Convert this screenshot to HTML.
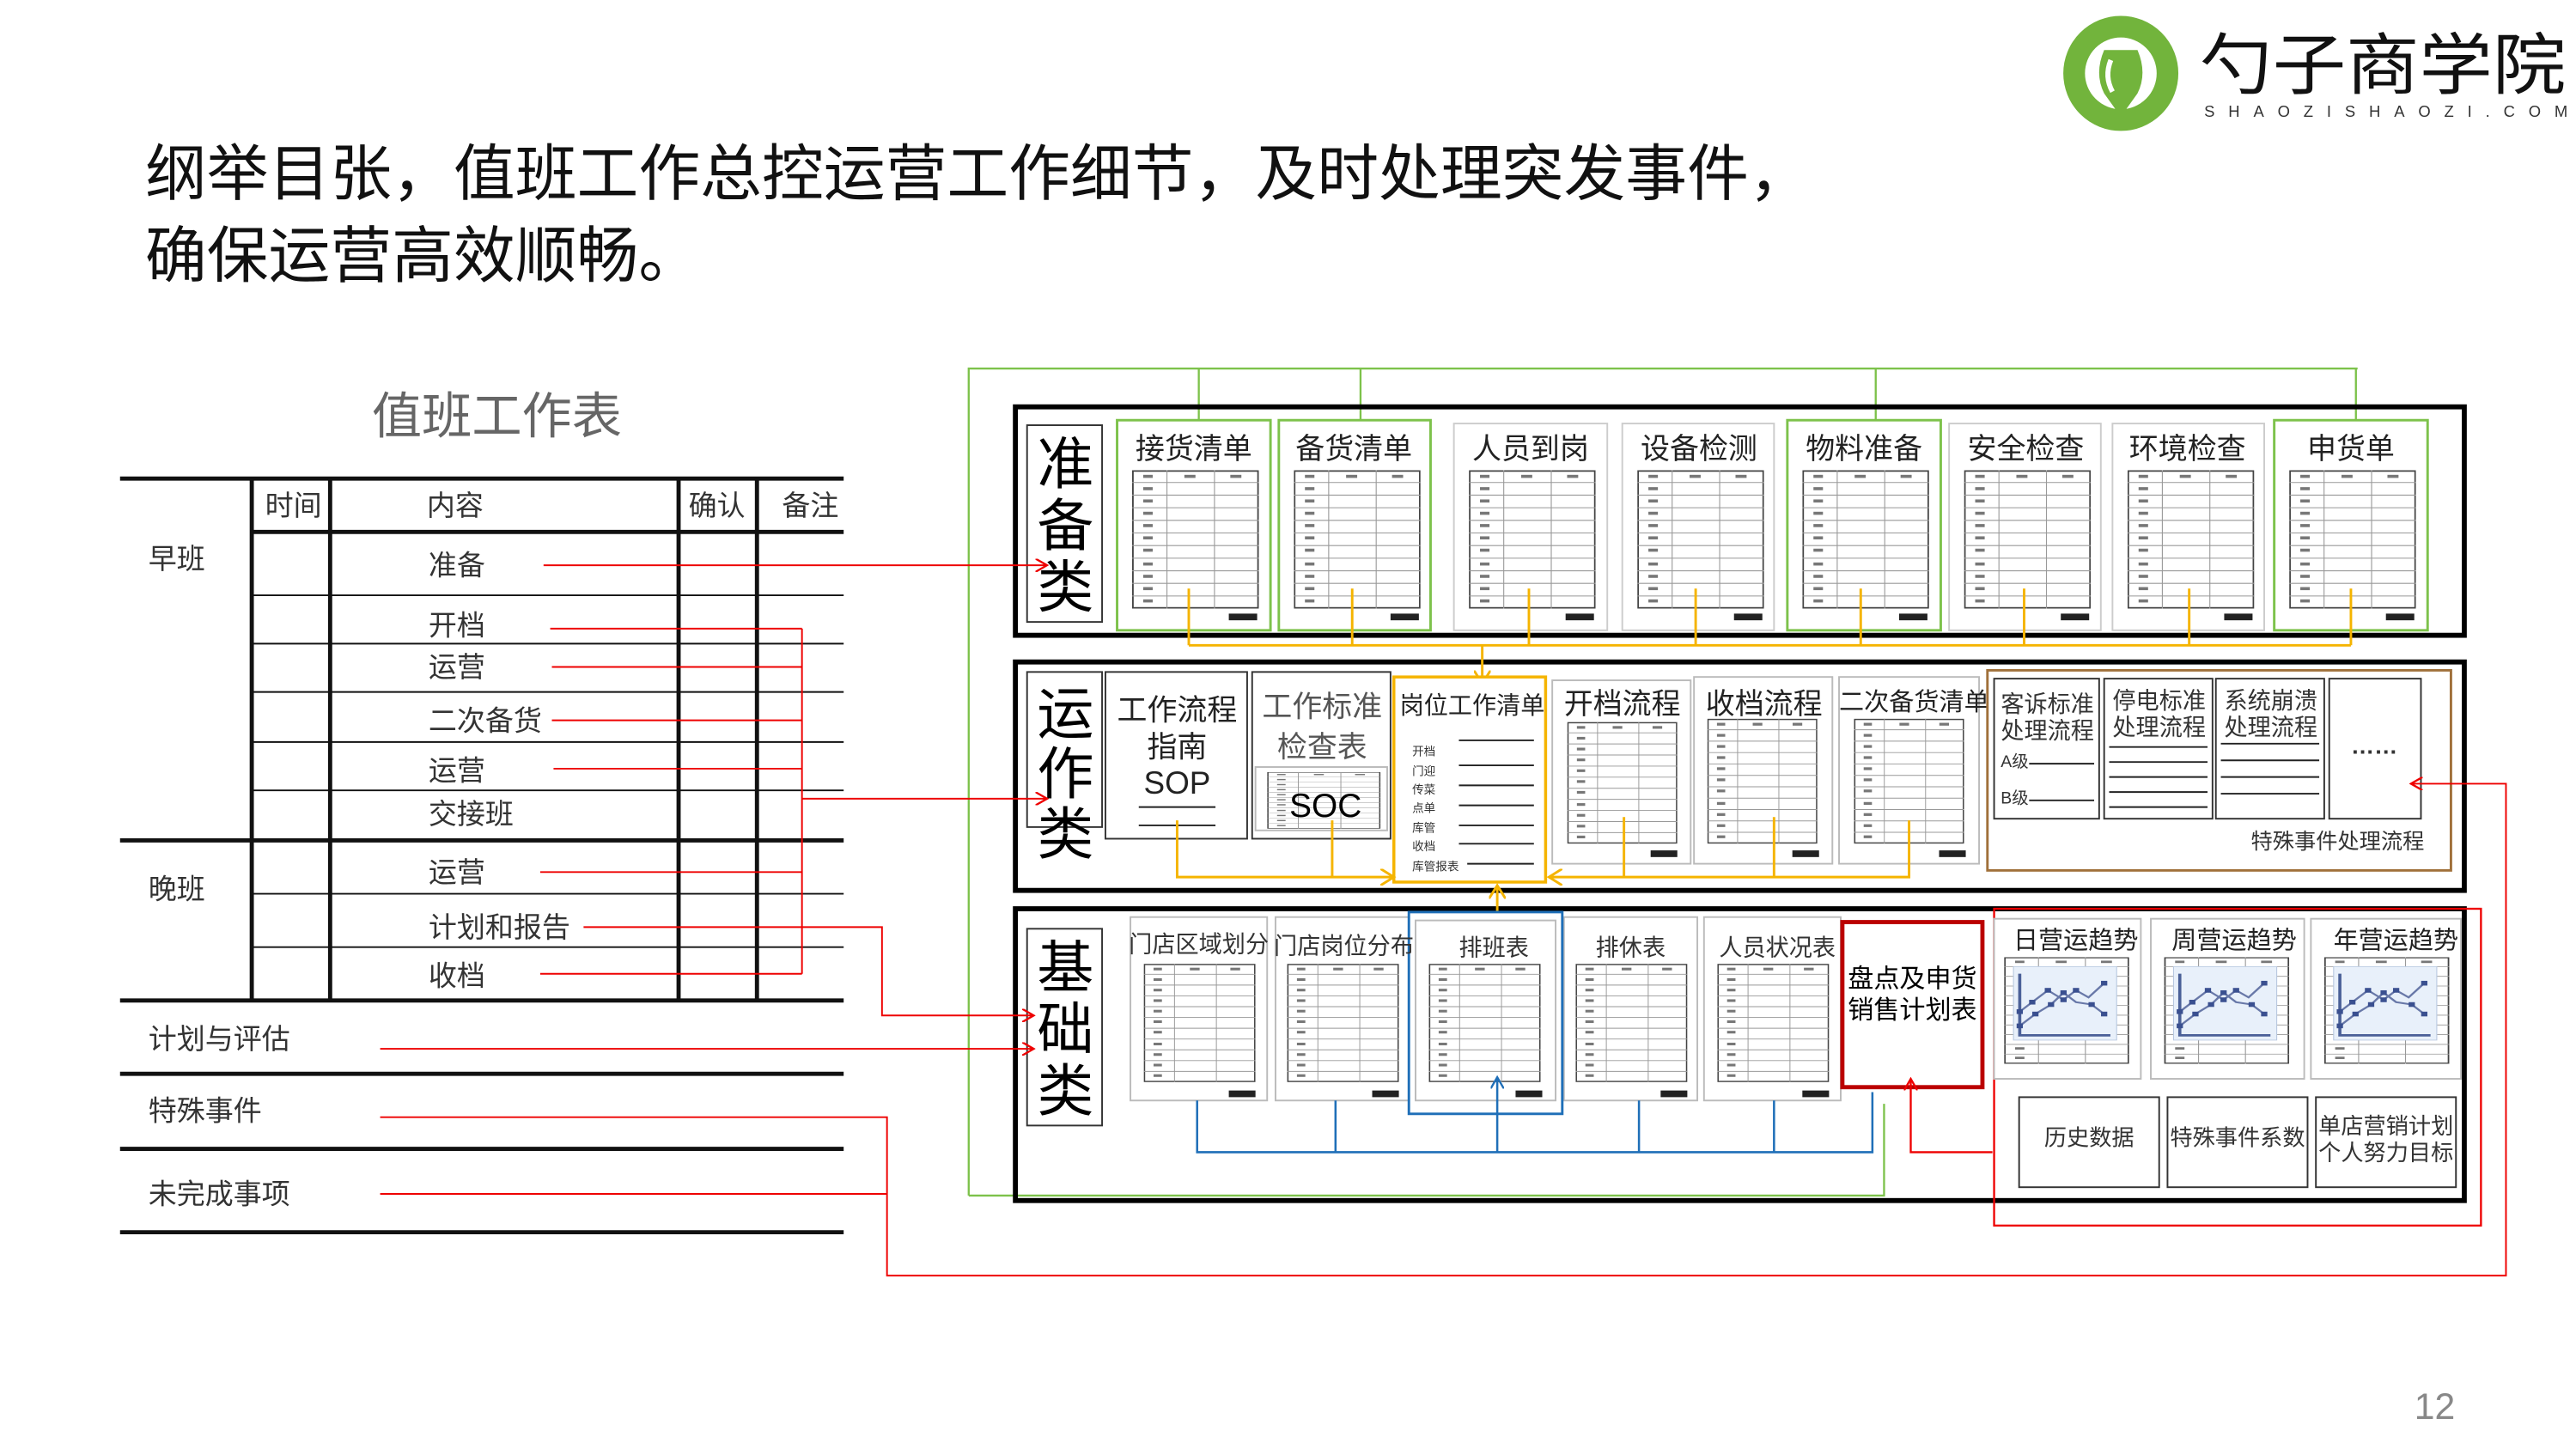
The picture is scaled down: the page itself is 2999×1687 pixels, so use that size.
<!DOCTYPE html>
<html><head><meta charset="utf-8"><style>
html,body{margin:0;padding:0;background:#fff;width:2999px;height:1687px;overflow:hidden}
svg{display:block}
text{font-family:"Liberation Sans","Noto Sans CJK SC",sans-serif}
</style></head><body>
<svg width="2999" height="1687" viewBox="0 0 1545 869" preserveAspectRatio="none" xmlns="http://www.w3.org/2000/svg">
<defs>
<symbol id="tbl" viewBox="0 0 80 90" preserveAspectRatio="none">
<rect x="0.5" y="0.5" width="79" height="89" fill="#fff" stroke="#444" stroke-width="1"/>
<g stroke="#999" stroke-width="0.6">
<line x1="0" y1="8" x2="80" y2="8"/><line x1="0" y1="16.2" x2="80" y2="16.2"/><line x1="0" y1="24.4" x2="80" y2="24.4"/><line x1="0" y1="32.6" x2="80" y2="32.6"/><line x1="0" y1="40.8" x2="80" y2="40.8"/><line x1="0" y1="49" x2="80" y2="49"/><line x1="0" y1="57.2" x2="80" y2="57.2"/><line x1="0" y1="65.4" x2="80" y2="65.4"/><line x1="0" y1="73.6" x2="80" y2="73.6"/><line x1="0" y1="81.8" x2="80" y2="81.8"/>
<line x1="22" y1="0" x2="22" y2="90"/><line x1="52" y1="0" x2="52" y2="90"/></g>
<g fill="#777"><rect x="7" y="3" width="6" height="2"/><rect x="7" y="11" width="6" height="2"/><rect x="7" y="19" width="6" height="2"/><rect x="7" y="27" width="6" height="2"/><rect x="7" y="35" width="6" height="2"/><rect x="7" y="43" width="6" height="2"/><rect x="7" y="51" width="6" height="2"/><rect x="7" y="60" width="6" height="2"/><rect x="7" y="68" width="6" height="2"/><rect x="7" y="76" width="6" height="2"/><rect x="7" y="84" width="6" height="2"/><rect x="33" y="3" width="7" height="2"/><rect x="62" y="3" width="7" height="2"/></g>
</symbol>
<symbol id="chart" viewBox="0 0 80 90" preserveAspectRatio="none">
<use href="#tbl" x="0" y="0" width="80" height="90"/>
<rect x="6" y="8" width="66" height="62" fill="#e8f0fa" stroke="#b8c8e0" stroke-width="0.6"/>
<polyline points="10,14 10,66 68,66" fill="none" stroke="#4a6098" stroke-width="2"/>
<polyline points="10,46 18,38 28,28 38,36 46,28 54,34 64,22" fill="none" stroke="#6878a8" stroke-width="1.5"/>
<polyline points="10,58 20,48 30,40 38,30 46,38 56,40 64,48" fill="none" stroke="#6878a8" stroke-width="1.5"/>
<g fill="#3a5090"><rect x="8" y="44" width="4" height="4"/><rect x="16" y="36" width="4" height="4"/><rect x="26" y="26" width="4" height="4"/><rect x="36" y="34" width="4" height="4"/><rect x="44" y="26" width="4" height="4"/><rect x="62" y="20" width="4" height="4"/><rect x="8" y="56" width="4" height="4"/><rect x="18" y="46" width="4" height="4"/><rect x="28" y="38" width="4" height="4"/><rect x="36" y="28" width="4" height="4"/><rect x="54" y="38" width="4" height="4"/><rect x="62" y="46" width="4" height="4"/></g>
</symbol>
<marker id="ar" markerWidth="8" markerHeight="8" refX="7" refY="4" orient="auto" markerUnits="userSpaceOnUse"><path d="M0,0 L7,4 L0,8" fill="none" stroke="#e00" stroke-width="1.2"/></marker>
<marker id="ay" markerWidth="10" markerHeight="10" refX="8" refY="5" orient="auto" markerUnits="userSpaceOnUse"><path d="M0,0 L8,5 L0,10" fill="none" stroke="#f5b400" stroke-width="1.5"/></marker>
<marker id="ag" markerWidth="8" markerHeight="8" refX="7" refY="4" orient="auto" markerUnits="userSpaceOnUse"><path d="M0,0 L7,4 L0,8" fill="none" stroke="#6cb33f" stroke-width="1.2"/></marker>
<marker id="ab" markerWidth="8" markerHeight="8" refX="7" refY="4" orient="auto" markerUnits="userSpaceOnUse"><path d="M0,0 L7,4 L0,8" fill="none" stroke="#1f6fb8" stroke-width="1.2"/></marker>
</defs>

<!-- logo -->
<circle cx="1272" cy="44" r="28" fill="none" stroke="#72b43c" stroke-width="13"/>
<path d="M1262,30 Q1256,44 1262,56 L1272,70 L1282,56 Q1288,44 1282,30 Z" fill="#72b43c"/>
<path d="M1266,36 Q1262,46 1267,55" stroke="#fff" stroke-width="3" fill="none"/>
<text x="1319" y="53" font-size="40" fill="#111" textLength="220" lengthAdjust="spacingAndGlyphs">勺子商学院</text>
<text x="1322" y="70" font-size="9.5" fill="#333" textLength="218" lengthAdjust="spacing">SHAOZISHAOZI.COM</text>

<!-- title -->
<text x="87" y="117" font-size="37" fill="#111">纲举目张，值班工作总控运营工作细节，及时处理突发事件，</text>
<text x="87" y="166" font-size="37" fill="#111">确保运营高效顺畅。</text>
<text x="1448" y="851" font-size="22" fill="#888" font-family="Liberation Serif,serif">12</text>

<!-- left table -->
<text x="298" y="260" font-size="30" fill="#666" text-anchor="middle">值班工作表</text>
<g stroke="#111">
<line x1="72" y1="287" x2="506" y2="287" stroke-width="2.5"/>
<line x1="150" y1="319" x2="506" y2="319" stroke-width="2.5"/>
<line x1="72" y1="504" x2="506" y2="504" stroke-width="2.5"/>
<line x1="72" y1="600" x2="506" y2="600" stroke-width="2.5"/>
<line x1="72" y1="644" x2="506" y2="644" stroke-width="2.5"/>
<line x1="72" y1="689" x2="506" y2="689" stroke-width="2.5"/>
<line x1="72" y1="739" x2="506" y2="739" stroke-width="2.5"/>
<g stroke-width="1"><line x1="150" y1="357" x2="506" y2="357"/><line x1="150" y1="386" x2="506" y2="386"/><line x1="150" y1="415" x2="506" y2="415"/><line x1="150" y1="445" x2="506" y2="445"/><line x1="150" y1="474" x2="506" y2="474"/><line x1="150" y1="536" x2="506" y2="536"/><line x1="150" y1="568" x2="506" y2="568"/></g>
<g stroke-width="2.5"><line x1="151" y1="287" x2="151" y2="600"/><line x1="198" y1="287" x2="198" y2="600"/><line x1="407" y1="287" x2="407" y2="600"/><line x1="454" y1="287" x2="454" y2="600"/></g>
</g>
<g font-size="17" fill="#333">
<text x="159" y="309">时间</text><text x="256" y="309">内容</text><text x="413" y="309">确认</text><text x="469" y="309">备注</text>
<text x="89" y="341">早班</text><text x="89" y="539">晚班</text>
<text x="257" y="345">准备</text><text x="257" y="381">开档</text><text x="257" y="406">运营</text><text x="257" y="438">二次备货</text><text x="257" y="468">运营</text><text x="257" y="494">交接班</text><text x="257" y="529">运营</text><text x="257" y="562">计划和报告</text><text x="257" y="591">收档</text>
<text x="89" y="629">计划与评估</text><text x="89" y="672">特殊事件</text><text x="89" y="722">未完成事项</text>
</g>

<!-- green frame -->
<g stroke="#7dc24b" stroke-width="1.2" fill="none">
<polyline points="581,717 581,221 1414,221"/>
<polyline points="581,717 1130,717 1130,662"/>
<line x1="719" y1="221" x2="719" y2="263" marker-end="url(#ag)"/>
<line x1="816" y1="221" x2="816" y2="263" marker-end="url(#ag)"/>
<line x1="1125" y1="221" x2="1125" y2="263" marker-end="url(#ag)"/>
<line x1="1413" y1="221" x2="1413" y2="263" marker-end="url(#ag)"/>
</g>

<!-- big boxes -->
<g fill="none" stroke="#000" stroke-width="3">
<rect x="609" y="244" width="869" height="137"/>
<rect x="609" y="397" width="869" height="137"/>
<rect x="609" y="545" width="869" height="175"/>
</g>
<g fill="#fff" stroke="#333" stroke-width="1">
<rect x="616" y="255" width="45" height="118"/>
<rect x="616" y="403" width="45" height="93"/>
<rect x="616" y="557" width="45" height="118"/>
</g>
<g font-size="34" fill="#000" text-anchor="middle">
<text x="639" y="290">准</text><text x="639" y="327">备</text><text x="639" y="364">类</text>
<text x="639" y="440">运</text><text x="639" y="476">作</text><text x="639" y="512">类</text>
<text x="639" y="592">基</text><text x="639" y="629">础</text><text x="639" y="666">类</text>
</g>

<!-- row1 cards -->
<g>
<rect x="670" y="252" width="92" height="126" fill="#fff" stroke="#7dc24b" stroke-width="1.5"/>
<rect x="767" y="252" width="91" height="126" fill="#fff" stroke="#7dc24b" stroke-width="1.5"/>
<rect x="872" y="254" width="92" height="124" fill="#fff" stroke="#ccc"/>
<rect x="973" y="254" width="91" height="124" fill="#fff" stroke="#ccc"/>
<rect x="1072" y="252" width="92" height="126" fill="#fff" stroke="#7dc24b" stroke-width="1.5"/>
<rect x="1169" y="254" width="91" height="124" fill="#fff" stroke="#ccc"/>
<rect x="1267" y="254" width="91" height="124" fill="#fff" stroke="#ccc"/>
<rect x="1364" y="252" width="92" height="126" fill="#fff" stroke="#7dc24b" stroke-width="1.5"/>
</g>
<g font-size="17.5" fill="#222" text-anchor="middle">
<text x="716" y="275">接货清单</text><text x="812" y="275">备货清单</text><text x="918" y="275">人员到岗</text><text x="1019" y="275">设备检测</text><text x="1118" y="275">物料准备</text><text x="1215" y="275">安全检查</text><text x="1312" y="275">环境检查</text><text x="1410" y="275">申货单</text>
</g>
<g>
<use href="#tbl" x="679" y="282" width="76" height="83"/><use href="#tbl" x="776" y="282" width="76" height="83"/><use href="#tbl" x="881" y="282" width="76" height="83"/><use href="#tbl" x="982" y="282" width="76" height="83"/><use href="#tbl" x="1081" y="282" width="76" height="83"/><use href="#tbl" x="1178" y="282" width="76" height="83"/><use href="#tbl" x="1276" y="282" width="76" height="83"/><use href="#tbl" x="1373" y="282" width="76" height="83"/>
</g>
<g fill="#222"><rect x="737" y="368" width="17" height="4"/><rect x="834" y="368" width="17" height="4"/><rect x="939" y="368" width="17" height="4"/><rect x="1040" y="368" width="17" height="4"/><rect x="1139" y="368" width="17" height="4"/><rect x="1236" y="368" width="17" height="4"/><rect x="1334" y="368" width="17" height="4"/><rect x="1431" y="368" width="17" height="4"/></g>
<g stroke="#f5b400" stroke-width="1.5" fill="none">
<line x1="713" y1="353" x2="713" y2="387"/><line x1="811" y1="353" x2="811" y2="387"/><line x1="917" y1="353" x2="917" y2="387"/><line x1="1017" y1="353" x2="1017" y2="387"/><line x1="1116" y1="353" x2="1116" y2="387"/><line x1="1214" y1="353" x2="1214" y2="387"/><line x1="1313" y1="353" x2="1313" y2="387"/><line x1="1410" y1="353" x2="1410" y2="387"/>
<line x1="713" y1="387" x2="1410" y2="387"/>
<line x1="889" y1="387" x2="889" y2="410" marker-end="url(#ay)"/>
</g>

<!-- row2 -->
<rect x="663" y="403" width="85" height="100" fill="#fff" stroke="#333"/>
<rect x="751" y="403" width="83" height="100" fill="#fff" stroke="#333"/>
<g font-size="18" fill="#222" text-anchor="middle">
<text x="706" y="432">工作流程</text><text x="706" y="454">指南</text><text x="706" y="476" font-size="19">SOP</text>
<text x="793" y="430" fill="#555">工作标准</text><text x="793" y="454" fill="#555">检查表</text>
</g>
<line x1="683" y1="484" x2="729" y2="484" stroke="#222"/><line x1="683" y1="495" x2="729" y2="495" stroke="#222"/>
<use href="#tbl" x="760" y="463" width="68" height="34"/>
<rect x="753" y="460" width="79" height="38" fill="none" stroke="#bbb"/>
<text x="795" y="490" font-size="20" text-anchor="middle" fill="#000">SOC</text>

<rect x="836" y="406" width="91" height="123" fill="#fff" stroke="#f5b400" stroke-width="1.8"/>
<text x="883" y="428" font-size="14.5" text-anchor="middle" fill="#222">岗位工作清单</text>
<g font-size="7" fill="#333"><text x="847" y="453">开档</text><text x="847" y="465">门迎</text><text x="847" y="476">传菜</text><text x="847" y="487">点单</text><text x="847" y="499">库管</text><text x="847" y="510">收档</text><text x="847" y="522">库管报表</text></g>
<g stroke="#222" stroke-width="1"><line x1="875" y1="444" x2="920" y2="444"/><line x1="875" y1="459" x2="920" y2="459"/><line x1="875" y1="471" x2="920" y2="471"/><line x1="875" y1="483" x2="920" y2="483"/><line x1="875" y1="495" x2="920" y2="495"/><line x1="875" y1="506" x2="920" y2="506"/><line x1="880" y1="518" x2="920" y2="518"/></g>

<rect x="931" y="408" width="83" height="110" fill="#fff" stroke="#bbb"/>
<rect x="1016" y="406" width="83" height="112" fill="#fff" stroke="#bbb"/>
<rect x="1103" y="406" width="84" height="112" fill="#fff" stroke="#bbb"/>
<g font-size="17.5" fill="#222" text-anchor="middle"><text x="973" y="428">开档流程</text><text x="1058" y="428">收档流程</text><text x="1148" y="426" font-size="15">二次备货清单</text></g>
<use href="#tbl" x="940" y="433" width="66" height="73"/><use href="#tbl" x="1024" y="431" width="66" height="75"/><use href="#tbl" x="1112" y="431" width="66" height="75"/>
<g fill="#222"><rect x="990" y="510" width="16" height="4"/><rect x="1075" y="510" width="16" height="4"/><rect x="1163" y="510" width="16" height="4"/></g>
<g stroke="#f5b400" stroke-width="1.5" fill="none">
<polyline points="706,492 706,526 836,526" marker-end="url(#ay)"/>
<line x1="799" y1="492" x2="799" y2="526"/>
<line x1="974" y1="490" x2="974" y2="526"/><line x1="1064" y1="490" x2="1064" y2="526"/>
<polyline points="1145,492 1145,526 929,526" marker-end="url(#ay)"/>
<line x1="898" y1="552" x2="898" y2="531" marker-end="url(#ay)"/>
</g>

<rect x="1192" y="402" width="278" height="120" fill="#fff" stroke="#a0703a" stroke-width="1.5"/>
<g fill="#fff" stroke="#333"><rect x="1196" y="407" width="63" height="84"/><rect x="1262" y="407" width="65" height="84"/><rect x="1329" y="407" width="65" height="84"/><rect x="1397" y="407" width="55" height="84"/></g>
<g font-size="14" fill="#333" text-anchor="middle">
<text x="1228" y="427">客诉标准</text><text x="1228" y="443">处理流程</text>
<text x="1295" y="425">停电标准</text><text x="1295" y="441">处理流程</text>
<text x="1362" y="425">系统崩溃</text><text x="1362" y="441">处理流程</text>
<text x="1424" y="452" font-weight="bold">……</text>
<text x="1402" y="509" font-size="13">特殊事件处理流程</text>
</g>
<g font-size="10" fill="#333"><text x="1200" y="460">A级</text><text x="1200" y="482">B级</text></g>
<g stroke="#222"><line x1="1217" y1="458" x2="1256" y2="458"/><line x1="1217" y1="480" x2="1256" y2="480"/>
<line x1="1265" y1="448" x2="1324" y2="448"/><line x1="1265" y1="457" x2="1324" y2="457"/><line x1="1265" y1="466" x2="1324" y2="466"/><line x1="1265" y1="475" x2="1324" y2="475"/><line x1="1265" y1="484" x2="1324" y2="484"/>
<line x1="1332" y1="446" x2="1391" y2="446"/><line x1="1332" y1="456" x2="1391" y2="456"/><line x1="1332" y1="466" x2="1391" y2="466"/><line x1="1332" y1="476" x2="1391" y2="476"/></g>

<!-- row3 -->
<g fill="#fff" stroke="#bbb"><rect x="678" y="550" width="82" height="110"/><rect x="765" y="550" width="81" height="110"/><rect x="938" y="550" width="80" height="110"/><rect x="1022" y="550" width="82" height="110"/></g>
<rect x="845" y="547" width="92" height="121" fill="#fff" stroke="#1f6fb8" stroke-width="1.5"/>
<rect x="849" y="552" width="84" height="108" fill="none" stroke="#bbb"/>
<g font-size="14" fill="#333" text-anchor="middle"><text x="719" y="571">门店区域划分</text><text x="806" y="572">门店岗位分布</text><text x="896" y="573">排班表</text><text x="978" y="573">排休表</text><text x="1066" y="573">人员状况表</text></g>
<use href="#tbl" x="686" y="578" width="67" height="71"/><use href="#tbl" x="772" y="578" width="67" height="71"/><use href="#tbl" x="857" y="578" width="67" height="71"/><use href="#tbl" x="945" y="578" width="67" height="71"/><use href="#tbl" x="1030" y="578" width="67" height="71"/>
<g fill="#222"><rect x="737" y="654" width="16" height="4"/><rect x="823" y="654" width="16" height="4"/><rect x="909" y="654" width="16" height="4"/><rect x="996" y="654" width="16" height="4"/><rect x="1081" y="654" width="16" height="4"/></g>
<rect x="1105" y="553" width="84" height="99" fill="#fff" stroke="#b00" stroke-width="2.5"/>
<text x="1147" y="592" font-size="15.5" text-anchor="middle" fill="#000">盘点及申货</text>
<text x="1147" y="611" font-size="15.5" text-anchor="middle" fill="#000">销售计划表</text>
<g stroke="#1f6fb8" stroke-width="1.3" fill="none">
<polyline points="718,660 718,691 1123,691 1123,655"/>
<line x1="801" y1="660" x2="801" y2="691"/><line x1="983" y1="660" x2="983" y2="691"/><line x1="1064" y1="660" x2="1064" y2="691"/>
<line x1="898" y1="691" x2="898" y2="646" marker-end="url(#ab)"/>
</g>
<g stroke="#e00" stroke-width="1.2" fill="none">
<polyline points="1195,691 1146,691 1146,647" marker-end="url(#ar)"/>
<rect x="1196" y="545" width="292" height="190"/>
</g>
<g fill="#fff" stroke="#bbb"><rect x="1196" y="551" width="88" height="96"/><rect x="1290" y="551" width="92" height="96"/><rect x="1386" y="551" width="90" height="96"/></g>
<g font-size="15" fill="#222" text-anchor="middle"><text x="1245" y="569">日营运趋势</text><text x="1340" y="569">周营运趋势</text><text x="1437" y="569">年营运趋势</text></g>
<use href="#chart" x="1202" y="574" width="75" height="64"/><use href="#chart" x="1298" y="574" width="75" height="64"/><use href="#chart" x="1394" y="574" width="75" height="64"/>
<g fill="#fff" stroke="#333"><rect x="1211" y="658" width="84" height="54"/><rect x="1300" y="658" width="84" height="54"/><rect x="1389" y="658" width="84" height="54"/></g>
<g font-size="13.5" fill="#333" text-anchor="middle"><text x="1253" y="687">历史数据</text><text x="1342" y="687">特殊事件系数</text><text x="1431" y="680">单店营销计划</text><text x="1431" y="696">个人努力目标</text></g>

<!-- red connectors -->
<g stroke="#e00" stroke-width="1" fill="none">
<line x1="326" y1="339" x2="628" y2="339" marker-end="url(#ar)"/>
<line x1="330" y1="377" x2="481" y2="377"/><line x1="331" y1="400" x2="481" y2="400"/><line x1="331" y1="432" x2="481" y2="432"/><line x1="332" y1="461" x2="481" y2="461"/><line x1="324" y1="523" x2="481" y2="523"/><line x1="324" y1="584" x2="481" y2="584"/>
<line x1="481" y1="377" x2="481" y2="584"/>
<line x1="481" y1="479" x2="628" y2="479" marker-end="url(#ar)"/>
<polyline points="350,556 529,556 529,609 620,609" marker-end="url(#ar)"/>
<line x1="228" y1="629" x2="620" y2="629" marker-end="url(#ar)"/>
<polyline points="228,670 532,670 532,765 1503,765 1503,470 1446,470" marker-end="url(#ar)"/>
<line x1="228" y1="716" x2="532" y2="716"/>
</g>
</svg>
</body></html>
